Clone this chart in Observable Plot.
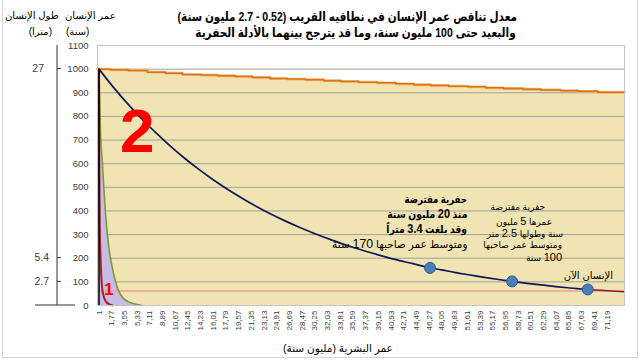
<!DOCTYPE html>
<html><head><meta charset="utf-8">
<script src="https://cdn.jsdelivr.net/npm/d3@7"></script>
<script src="https://cdn.jsdelivr.net/npm/@observablehq/plot@0.6"></script>
<style>
body{margin:0;background:#fff;}
#wrap{position:relative;width:640px;height:363px;overflow:hidden;font-family:"Liberation Sans","DejaVu Sans",sans-serif;}
#wrap svg{position:absolute;left:0;top:0;}
.t{position:absolute;white-space:nowrap;direction:rtl;color:#000;transform-origin:right center;}
#border{position:absolute;left:2px;top:-5px;width:634px;height:361px;border:1.5px solid #d6d6d6;}
</style></head>
<body><div id="wrap"><div id="border"></div></div>
<script>
// ---- data ----
const yTicks = [0,100,200,300,400,500,600,700,800,900,1000,1100];
const heightTicks = [2.7, 5.4, 27];          // metres (secondary axis)
const yearsPerMetre = 1000 / 27;
const xTickVals = [0,1.77,3.55,5.33,7.11,8.89,10.67,12.45,14.23,16.01,17.79,19.57,21.35,23.13,24.91,26.69,28.47,30.25,32.03,33.81,35.59,37.37,39.15,40.93,42.71,44.49,46.27,48.05,49.83,51.61,53.39,55.17,56.95,58.73,60.51,62.29,64.07,65.85,67.63,69.41,71.19];
const xTickLabels = ["1","1,77","3,55","5,33","7,11","8,89","10,67","12,45","14,23","16,01","17,79","19,57","21,35","23,13","24,91","26,69","28,47","30,25","32,03","33,81","35,59","37,37","39,15","40,93","42,71","44,49","46,27","48,05","49,83","51,61","53,39","55,17","56,95","58,73","60,51","62,29","64,07","65,85","67,63","69,41","71,19"];

const orangeT = [-0.2,1.6,4.1,6.8,9.3,11.7,14.2,16.6,19.1,21.5,24.0,26.4,28.9,31.5,33.9,36.4,39.0,41.6,44.1,46.5,49.0,51.7,54.2,56.7,59.4,61.9,64.7,67.2,69.9,73.65];
const orangeV = [1000,997,994,987,983,977,975,972,969,965,960,958,955,951,948,945,942,938,934,931,928,925,921,918,915,912,909,906,902,902];

const navyT = [0,2,4,6,8,10,12,14,16,18,20,22,24,26,28,30,32,34,36,38,40,42,44,46.4,48,50,52,54,56,57.9,60,62,64,66,68.5];
const navyV = [1000,924,854,789,730,674,623,576,532,492,455,420,388,359,332,307,284,262,242,224,207,191,177,159,151,139,129,119,110,102,94,87,80,74,68];

const pointT = [46.4, 57.9, 68.5];
const pointV = [159, 102, 68];

const tailT = [68.5, 73.65];
const tailV = [68, 58];

const salmonLevel = [61];

const greenT = [0,0.21,0.45,0.67,0.91,1.37,1.85,2.55,3.48,4.88,6.0];
const greenV = [1000,733,613,500,389,247,162,77,28,7,0];

const redT = [0,0.03,0.1,0.2,0.3,0.45,0.6,0.9,1.2,1.5,1.9];
const redV = [1000,620,340,220,135,70,45,20,10,5,0];

const blackT = [0,0];
const blackV = [1000,0];

// ---- build tables ----
const zip = (T,V) => T.map((t,i)=>({t, v:V[i]}));
const orange = zip(orangeT, orangeV);
const navy = zip(navyT, navyV);
const pts = zip(pointT, pointV);
const tail = zip(tailT, tailV);
const green = zip(greenT, greenV);
const red = zip(redT, redV);
const black = zip(blackT, blackV);
const labelOf = new Map(xTickVals.map((v,i)=>[v, xTickLabels[i]]));

const chart = Plot.plot({
  width: 640, height: 363,
  marginLeft: 97, marginRight: 16, marginTop: 45, marginBottom: 58,
  x: {domain: [-0.21, 73.65], label: null},
  y: {domain: [0, 1100], label: null},
  style: {fontFamily: "'Liberation Sans', Arial, sans-serif", fontSize: "9px", color: "#404040", background: "transparent"},
  marks: [
    Plot.areaY(orange, {x: "t", y: "v", curve: "step-after", fill: "#f0e4b2"}),
    Plot.ruleY(yTicks.filter(d => d > 0 && d < 1100), {stroke: "#a3a09a", strokeWidth: 1}),
    Plot.areaY(green, {x: "t", y: "v", fill: "#c6bce6", curve: "linear"}),
    Plot.ruleY(salmonLevel, {stroke: "#f2a08a", strokeWidth: 1.5}),
    Plot.line(orange, {x: "t", y: "v", curve: "step-after", stroke: "#f3b57a", strokeWidth: 2.8}),
    Plot.line(orange, {x: "t", y: "v", curve: "step-after", stroke: "#dd7410", strokeWidth: 1.5}),
    Plot.line(navy, {x: "t", y: "v", curve: "monotone-x", stroke: "#10185a", strokeWidth: 1.7}),
    Plot.line(tail, {x: "t", y: "v", stroke: "#8c1838", strokeWidth: 1.6}),
    Plot.line(green, {x: "t", y: "v", curve: "monotone-x", stroke: "#7b9a30", strokeWidth: 1.6}),
    Plot.line(red, {x: "t", y: "v", curve: "monotone-x", stroke: "#9e2222", strokeWidth: 2}),
    Plot.line(black, {x: "t", y: "v", stroke: "#000", strokeWidth: 1.5}),
    Plot.dot(pts, {x: "t", y: "v", r: 5.5, fill: "#4a7ebb", stroke: "#2c5a92", strokeWidth: 1}),
    Plot.frame({stroke: "#c4c4c4"}),
    Plot.axisY(yTicks, {anchor: "left", label: null, tickSize: 0, tickPadding: 9, tickFormat: d => String(d), fontSize: 9.5, fill: "#404040"}),
    Plot.axisX(xTickVals, {anchor: "bottom", label: null, tickSize: 0, tickPadding: 5, tickRotate: -90, tickFormat: d => labelOf.get(d), fontSize: 8, fill: "#404040"})
  ]
});
const wrap = document.getElementById("wrap");
wrap.appendChild(chart);

// secondary (height) axis, drawn with the same y scale
const ys = chart.scale("y");
const svg = d3.select(chart);
const g = svg.append("g").attr("stroke", "#333");
g.append("line").attr("x1", 57).attr("x2", 57).attr("y1", ys.apply(1100)).attr("y2", ys.apply(0));
g.append("line").attr("x1", 35).attr("x2", 75).attr("y1", ys.apply(0)).attr("y2", ys.apply(0));
heightTicks.forEach(h => {
  const yy = ys.apply(h * yearsPerMetre);
  g.append("line").attr("x1", 57).attr("x2", 61).attr("y1", yy).attr("y2", yy);
  svg.append("text").attr("x", h >= 10 ? 44 : 49).attr("y", yy).attr("dy", "0.35em").attr("text-anchor", "end")
    .attr("font-family", "'Liberation Sans', Arial, sans-serif").attr("font-size", 10.5).attr("fill", "#404040").text(String(h));
});

// ---- text overlays ----
function addText(html, css){
  const d = document.createElement("div");
  d.className = "t"; d.innerHTML = html;
  Object.assign(d.style, css);
  wrap.appendChild(d);
}
addText("معدل تناقص عمر الإنسان في نطاقيه القريب (0.52 - 2.7 مليون سنة)", {right:"123px", top:"9px", fontSize:"12.8px", fontWeight:"bold", transform:"scaleX(0.82)"});
addText("والبعيد حتى 100 مليون سنة، وما قد يترجح بينهما بالأدلة الحفرية", {right:"124px", top:"25px", fontSize:"12.8px", fontWeight:"bold", transform:"scaleX(0.82)"});
addText("عمر الإنسان", {left:"65px", top:"10px", fontSize:"10px"});
addText("(سنة)", {left:"66px", top:"26px", fontSize:"10px"});
addText("طول الإنسان", {left:"5px", top:"10px", fontSize:"10px"});
addText("(مترا)", {right:"588px", top:"26px", fontSize:"10px"});
addText("عمر البشرية (مليون سنة)", {left:"283px", top:"342px", fontSize:"10.5px"});

addText("2", {left:"120px", top:"95px", fontSize:"62px", fontWeight:"bold", color:"#ff0000", direction:"ltr"});
addText("1", {left:"104px", top:"280px", fontSize:"17px", fontWeight:"bold", color:"#ff0000", direction:"ltr"});

addText("حفرية مفترضة", {right:"173px", top:"193px", fontSize:"11px", fontWeight:"bold", transform:"scaleX(0.78)"});
addText("منذ <b style='font-size:13px'>20</b> مليون سنة", {right:"173px", top:"206px", fontSize:"11px", fontWeight:"bold", transform:"scaleX(0.84)"});
addText("وقد بلغت <b style='font-size:13px'>3.4</b> متراً", {right:"173px", top:"221px", fontSize:"11px", fontWeight:"bold", transform:"scaleX(0.84)"});
addText("ومتوسط عمر صاحبها <span style='font-size:13px'>170</span> سنة", {right:"173px", top:"236px", fontSize:"11px", transform:"scaleX(0.95)"});

addText("حفرية مفترضة", {right:"95px", top:"202px", fontSize:"9px"});
addText("عمرها <span style='font-size:11px'>5</span> مليون", {right:"88px", top:"215px", fontSize:"9px"});
addText("سنة وطولها <span style='font-size:11px'>2.5</span> متر", {right:"77px", top:"227px", fontSize:"9px"});
addText("ومتوسط عمر صاحبها", {right:"78px", top:"240px", fontSize:"9px"});
addText("<span style='font-size:11px'>100</span> سنة", {right:"78px", top:"251px", fontSize:"9px"});

addText("الإنسان الآن", {right:"27px", top:"270px", fontSize:"10px"});
</script>
</body></html>
